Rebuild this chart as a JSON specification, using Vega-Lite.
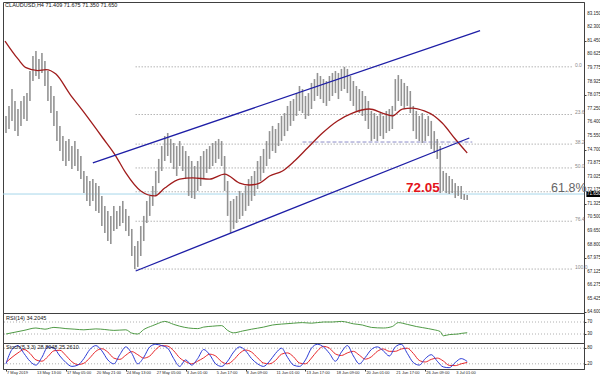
{
  "$schema": "https://vega.github.io/schema/vega-lite/v6.json",
  "padding": {"left": 1, "top": 1, "right": 0, "bottom": 0},
  "background": "#ffffff",
  "bounds": "flush",
  "spacing": 0,
  "config": {
    "font": "Liberation Sans",
    "view": {"stroke": "#404040", "strokeWidth": 1},
    "axis": {"title": null, "grid": false, "labels": false, "tickSize": 2, "domainColor": "#404040", "tickColor": "#404040"}
  },
  "datasets": {
    "bars": [
      {"t":0,"h":76.80,"l":75.74},{"t":1,"h":77.42,"l":75.99},{"t":2,"h":78.47,"l":76.49},{"t":3,"h":77.73,"l":75.86},{"t":4,"h":77.23,"l":75.55},{"t":5,"h":77.73,"l":76.18},{"t":6,"h":78.04,"l":76.61},{"t":7,"h":78.22,"l":76.49},{"t":8,"h":79.59,"l":77.73},{"t":9,"h":80.52,"l":78.97},
      {"t":10,"h":80.83,"l":79.28},{"t":11,"h":80.34,"l":79.09},{"t":12,"h":80.71,"l":79.47},{"t":13,"h":80.21,"l":78.66},{"t":14,"h":79.59,"l":77.73},{"t":15,"h":78.66,"l":76.98},{"t":16,"h":78.04,"l":76.18},{"t":17,"h":77.11,"l":75.24},{"t":18,"h":76.18,"l":74.62},{"t":19,"h":75.55,"l":74.00},
      {"t":20,"h":75.24,"l":73.69},{"t":21,"h":75.37,"l":74.00},{"t":22,"h":74.93,"l":73.50},{"t":23,"h":75.24,"l":73.69},{"t":24,"h":74.75,"l":73.38},{"t":25,"h":74.31,"l":72.88},{"t":26,"h":73.38,"l":72.01},{"t":27,"h":73.07,"l":71.52},{"t":28,"h":72.76,"l":71.21},{"t":29,"h":72.88,"l":71.52},
      {"t":30,"h":72.63,"l":70.90},{"t":31,"h":72.45,"l":70.77},{"t":32,"h":71.83,"l":69.96},{"t":33,"h":71.21,"l":69.53},{"t":34,"h":70.90,"l":69.03},{"t":35,"h":70.59,"l":68.85},{"t":36,"h":71.21,"l":69.65},{"t":37,"h":70.90,"l":69.78},{"t":38,"h":71.21,"l":69.96},{"t":39,"h":71.52,"l":70.15},
      {"t":40,"h":71.02,"l":69.65},{"t":41,"h":70.59,"l":69.34},{"t":42,"h":69.78,"l":68.10},{"t":43,"h":68.72,"l":67.29},{"t":44,"h":69.03,"l":67.42},{"t":45,"h":69.96,"l":68.10},{"t":46,"h":70.59,"l":69.03},{"t":47,"h":71.52,"l":70.15},{"t":48,"h":71.83,"l":70.59},{"t":49,"h":72.45,"l":71.21},
      {"t":50,"h":73.38,"l":71.83},{"t":51,"h":74.13,"l":72.63},{"t":52,"h":74.93,"l":73.38},{"t":53,"h":75.55,"l":74.00},{"t":54,"h":75.74,"l":74.31},{"t":55,"h":75.37,"l":73.88},{"t":56,"h":75.12,"l":73.50},{"t":57,"h":74.93,"l":73.07},{"t":58,"h":75.24,"l":73.69},{"t":59,"h":74.93,"l":73.38},
      {"t":60,"h":74.62,"l":72.88},{"t":61,"h":74.31,"l":71.83},{"t":62,"h":74.00,"l":71.70},{"t":63,"h":73.69,"l":71.64},{"t":64,"h":74.00,"l":72.14},{"t":65,"h":74.31,"l":72.45},{"t":66,"h":74.62,"l":72.88},{"t":67,"h":74.75,"l":73.26},{"t":68,"h":74.93,"l":73.50},{"t":69,"h":75.12,"l":73.69},
      {"t":70,"h":75.24,"l":73.88},{"t":71,"h":75.37,"l":74.13},{"t":72,"h":75.24,"l":73.69},{"t":73,"h":74.31,"l":72.14},{"t":74,"h":72.76,"l":70.59},{"t":75,"h":71.52,"l":69.53},{"t":76,"h":71.64,"l":69.78},{"t":77,"h":71.83,"l":70.15},{"t":78,"h":72.14,"l":70.40},{"t":79,"h":72.01,"l":70.59},
      {"t":80,"h":72.45,"l":70.90},{"t":81,"h":72.88,"l":71.21},{"t":82,"h":73.07,"l":71.52},{"t":83,"h":73.38,"l":71.83},{"t":84,"h":74.00,"l":72.26},{"t":85,"h":74.31,"l":72.76},{"t":86,"h":74.75,"l":73.26},{"t":87,"h":75.24,"l":73.69},{"t":88,"h":75.86,"l":74.13},{"t":89,"h":76.18,"l":74.62},
      {"t":90,"h":75.99,"l":74.50},{"t":91,"h":76.36,"l":74.93},{"t":92,"h":76.80,"l":75.24},{"t":93,"h":76.98,"l":75.55},{"t":94,"h":77.42,"l":75.86},{"t":95,"h":77.73,"l":76.18},{"t":96,"h":77.85,"l":76.49},{"t":97,"h":78.22,"l":76.80},{"t":98,"h":78.66,"l":77.11},{"t":99,"h":78.47,"l":76.98},
      {"t":100,"h":78.04,"l":76.61},{"t":101,"h":78.22,"l":76.80},{"t":102,"h":78.85,"l":77.23},{"t":103,"h":79.09,"l":77.73},{"t":104,"h":79.47,"l":78.04},{"t":105,"h":79.28,"l":77.85},{"t":106,"h":79.09,"l":77.60},{"t":107,"h":78.97,"l":77.42},{"t":108,"h":79.28,"l":77.73},{"t":109,"h":79.47,"l":78.04},
      {"t":110,"h":79.59,"l":78.22},{"t":111,"h":79.47,"l":77.85},{"t":112,"h":79.72,"l":78.35},{"t":113,"h":79.85,"l":78.47},{"t":114,"h":79.72,"l":78.22},{"t":115,"h":79.28,"l":77.73},{"t":116,"h":78.97,"l":77.42},{"t":117,"h":78.66,"l":77.11},{"t":118,"h":78.47,"l":76.98},{"t":119,"h":78.35,"l":76.80},
      {"t":120,"h":78.04,"l":76.49},{"t":121,"h":77.73,"l":75.99},{"t":122,"h":77.11,"l":75.24},{"t":123,"h":76.98,"l":75.37},{"t":124,"h":76.80,"l":75.24},{"t":125,"h":76.98,"l":75.55},{"t":126,"h":76.80,"l":75.37},{"t":127,"h":77.11,"l":75.74},{"t":128,"h":77.23,"l":75.86},{"t":129,"h":77.42,"l":75.99},
      {"t":130,"h":79.09,"l":77.11},{"t":131,"h":79.34,"l":77.73},{"t":132,"h":79.09,"l":77.42},{"t":133,"h":78.85,"l":77.23},{"t":134,"h":78.66,"l":77.42},{"t":135,"h":78.35,"l":76.98},{"t":136,"h":77.42,"l":75.86},{"t":137,"h":77.11,"l":75.37},{"t":138,"h":76.80,"l":75.24},{"t":139,"h":76.98,"l":75.12},
      {"t":140,"h":76.61,"l":75.24},{"t":141,"h":76.80,"l":75.55},{"t":142,"h":76.49,"l":74.75},{"t":143,"h":75.86,"l":74.50},{"t":144,"h":75.37,"l":74.13},{"t":145,"h":74.93,"l":72.01},{"t":146,"h":73.38,"l":72.14},{"t":147,"h":73.26,"l":72.01},{"t":148,"h":73.07,"l":71.95},{"t":149,"h":72.88,"l":72.01},
      {"t":150,"h":72.63,"l":71.70},{"t":151,"h":72.45,"l":71.83},{"t":152,"h":72.45,"l":71.64},{"t":153,"h":71.95,"l":71.58},{"t":154,"h":71.89,"l":71.58}
    ],
    "ma": [
      {"t":-0.33,"p":81.45},{"t":4,"p":80.34},{"t":6.67,"p":79.80},{"t":10.67,"p":79.62},{"t":13.33,"p":79.68},{"t":16.67,"p":79.40},{"t":21.33,"p":78.16},{"t":25.67,"p":77.11},{"t":32.33,"p":75.43},{"t":36.67,"p":74.31},
      {"t":40,"p":73.26},{"t":45,"p":72.14},{"t":49.67,"p":71.83},{"t":53,"p":72.32},{"t":58,"p":72.88},{"t":62.33,"p":72.95},{"t":68,"p":72.88},{"t":73,"p":73.19},{"t":78,"p":72.63},{"t":81.33,"p":72.51},
      {"t":84.67,"p":72.63},{"t":88,"p":73.07},{"t":92.33,"p":73.38},{"t":96.33,"p":74.00},{"t":100.67,"p":74.81},{"t":105.67,"p":75.74},{"t":110.67,"p":76.49},{"t":115.67,"p":76.98},{"t":121.33,"p":77.23},{"t":125.67,"p":76.98},
      {"t":129,"p":76.80},{"t":132.33,"p":77.23},{"t":135.67,"p":77.29},{"t":139.67,"p":77.11},{"t":143,"p":76.80},{"t":145.67,"p":76.36},{"t":150,"p":75.37},{"t":154,"p":74.50}
    ],
    "channel": [
      {"ch":"upper","t":29,"p":73.88},{"ch":"upper","t":158.3,"p":82.10},
      {"ch":"lower","t":43.3,"p":67.17},{"ch":"lower","t":154.7,"p":75.43}
    ],
    "fib": [
      {"lvl":"0.0","p":79.85,"t0":43.3,"t1":189.3},{"lvl":"23.6","p":76.89,"t0":43.3,"t1":189.3},{"lvl":"38.2","p":75.05,"t0":43.3,"t1":189.3},{"lvl":"50.0","p":73.57,"t0":43.3,"t1":189.3},{"lvl":"","p":72.09,"t0":43.3,"t1":189.3},{"lvl":"76.4","p":70.26,"t0":43.3,"t1":189.3},{"lvl":"100.0","p":67.29,"t0":43.3,"t1":189.3}
    ],
    "pricelabels": [
      {"p":83.15,"txt":"83.150"},{"p":82.3,"txt":"82.300"},{"p":81.45,"txt":"81.450"},{"p":80.625,"txt":"80.625"},{"p":79.775,"txt":"79.775"},{"p":78.925,"txt":"78.925"},{"p":78.075,"txt":"78.075"},{"p":77.25,"txt":"77.250"},
      {"p":76.4,"txt":"76.400"},{"p":75.55,"txt":"75.550"},{"p":74.7,"txt":"74.700"},{"p":73.875,"txt":"73.875"},{"p":73.025,"txt":"73.025"},{"p":72.175,"txt":"72.175"},{"p":71.325,"txt":"71.325"},{"p":70.5,"txt":"70.500"},
      {"p":69.65,"txt":"69.650"},{"p":68.8,"txt":"68.800"},{"p":67.975,"txt":"67.975"},{"p":67.125,"txt":"67.125"},{"p":66.275,"txt":"66.275"},{"p":65.425,"txt":"65.425"},{"p":64.6,"txt":"64.600"}
    ],
    "timelabels": [
      {"t":0,"txt":"7 May 2019"},{"t":10,"txt":"13 May 13:00"},{"t":20,"txt":"17 May 05:00"},{"t":30,"txt":"20 May 21:00"},{"t":40,"txt":"24 May 13:00"},{"t":50,"txt":"27 May 05:00"},{"t":60,"txt":"3 Jun 01:00"},{"t":70,"txt":"5 Jun 17:00"},
      {"t":80,"txt":"8 Jun 09:00"},{"t":90,"txt":"11 Jun 01:00"},{"t":100,"txt":"13 Jun 17:00"},{"t":110,"txt":"18 Jun 09:00"},{"t":120,"txt":"20 Jun 01:00"},{"t":130,"txt":"21 Jun 17:00"},{"t":140,"txt":"26 Jun 09:00"},{"t":150,"txt":"3 Jul 01:00"}
    ],
    "rsi": [
      {"t":0,"v":30},{"t":3,"v":36},{"t":6,"v":42},{"t":10,"v":50},{"t":13,"v":46},{"t":16,"v":52},{"t":20,"v":48},{"t":23,"v":46},{"t":26,"v":44},{"t":30,"v":47},
      {"t":33,"v":45},{"t":36,"v":42},{"t":40,"v":44},{"t":42,"v":33},{"t":44,"v":30},{"t":46,"v":45},{"t":49,"v":58},{"t":51,"v":66},{"t":53,"v":72},{"t":56,"v":62},
      {"t":58,"v":56},{"t":61,"v":50},{"t":64,"v":48},{"t":66,"v":53},{"t":69,"v":56},{"t":72,"v":58},{"t":74,"v":42},{"t":76,"v":34},{"t":79,"v":40},{"t":82,"v":46},
      {"t":86,"v":53},{"t":89,"v":60},{"t":92,"v":63},{"t":96,"v":66},{"t":99,"v":68},{"t":102,"v":66},{"t":106,"v":70},{"t":109,"v":70},{"t":112,"v":72},{"t":116,"v":64},
      {"t":119,"v":60},{"t":122,"v":52},{"t":126,"v":50},{"t":129,"v":55},{"t":131,"v":68},{"t":134,"v":62},{"t":137,"v":55},{"t":141,"v":48},{"t":143,"v":44},{"t":145,"v":38},
      {"t":146,"v":24},{"t":148,"v":28},{"t":151,"v":30},{"t":152,"v":32},{"t":154,"v":34.2}
    ],
    "stoch": [
      {"t":0,"k":20,"d":25},{"t":2,"k":75,"d":45},{"t":4,"k":90,"d":62},{"t":6,"k":60,"d":75},{"t":8,"k":30,"d":60},{"t":10,"k":15,"d":35},{"t":12,"k":45,"d":30},{"t":14,"k":85,"d":48},{"t":16,"k":80,"d":70},{"t":18,"k":50,"d":72},
      {"t":20,"k":25,"d":52},{"t":22,"k":10,"d":28},{"t":24,"k":15,"d":17},{"t":26,"k":40,"d":22},{"t":28,"k":75,"d":43},{"t":30,"k":90,"d":68},{"t":32,"k":70,"d":78},{"t":34,"k":35,"d":65},{"t":36,"k":20,"d":42},{"t":38,"k":55,"d":37},
      {"t":40,"k":85,"d":53},{"t":42,"k":60,"d":67},{"t":44,"k":20,"d":55},{"t":46,"k":45,"d":42},{"t":48,"k":85,"d":50},{"t":50,"k":95,"d":75},{"t":52,"k":90,"d":90},{"t":54,"k":80,"d":88},{"t":56,"k":40,"d":70},{"t":58,"k":10,"d":43},
      {"t":60,"k":35,"d":28},{"t":62,"k":15,"d":20},{"t":64,"k":40,"d":30},{"t":66,"k":75,"d":43},{"t":68,"k":55,"d":57},{"t":70,"k":20,"d":50},{"t":72,"k":10,"d":28},{"t":74,"k":30,"d":20},{"t":76,"k":65,"d":35},{"t":78,"k":85,"d":60},
      {"t":80,"k":70,"d":73},{"t":82,"k":40,"d":65},{"t":84,"k":20,"d":43},{"t":86,"k":10,"d":23},{"t":88,"k":30,"d":20},{"t":90,"k":60,"d":33},{"t":92,"k":80,"d":57},{"t":94,"k":45,"d":62},{"t":96,"k":15,"d":47},{"t":98,"k":10,"d":23},
      {"t":100,"k":35,"d":20},{"t":102,"k":80,"d":42},{"t":104,"k":95,"d":70},{"t":106,"k":85,"d":87},{"t":108,"k":60,"d":80},{"t":110,"k":30,"d":58},{"t":112,"k":65,"d":52},{"t":114,"k":90,"d":62},{"t":116,"k":50,"d":68},{"t":118,"k":20,"d":53},
      {"t":120,"k":45,"d":38},{"t":122,"k":75,"d":47},{"t":124,"k":85,"d":68},{"t":126,"k":70,"d":77},{"t":128,"k":50,"d":68},{"t":130,"k":85,"d":68},{"t":132,"k":95,"d":77},{"t":134,"k":60,"d":80},{"t":136,"k":25,"d":60},{"t":138,"k":15,"d":33},
      {"t":140,"k":40,"d":27},{"t":142,"k":55,"d":37},{"t":144,"k":30,"d":42},{"t":146,"k":8,"d":31},{"t":148,"k":5,"d":14},{"t":150,"k":25,"d":13},{"t":152,"k":40,"d":20},{"t":154,"k":28.8,"d":25.3}
    ]
  },
  "vconcat": [
    {
      "width": 581,
      "height": 311,
      "layer": [
        {
          "data": {"name": "fib"},
          "mark": {"type": "rule", "color": "#8f8f8f", "strokeWidth": 1, "strokeDash": [1, 2]},
          "encoding": {
            "x": {"field": "t0", "type": "quantitative", "scale": {"domain": [-1, 193], "nice": false, "zero": false}, "axis": null},
            "x2": {"field": "t1"},
            "y": {"field": "p", "type": "quantitative", "scale": {"domain": [64.56, 83.877], "nice": false, "zero": false},
                  "axis": {"orient": "right", "labels": false, "values": [83.15, 82.3, 81.45, 80.625, 79.775, 78.925, 78.075, 77.25, 76.4, 75.55, 74.7, 73.875, 73.025, 72.175, 71.325, 70.5, 69.65, 68.8, 67.975, 67.125, 66.275, 65.425, 64.6]}}
          }
        },
        {
          "data": {"name": "pricelabels"},
          "mark": {"type": "text", "align": "left", "baseline": "middle", "fontSize": 4.5, "color": "#222222"},
          "encoding": {
            "x": {"datum": 194.1, "type": "quantitative"},
            "y": {"field": "p", "type": "quantitative"},
            "text": {"field": "txt"}
          }
        },
        {
          "data": {"name": "fib"},
          "mark": {"type": "text", "align": "left", "baseline": "bottom", "dx": 2, "dy": 1, "fontSize": 5, "color": "#8a8a8a"},
          "encoding": {
            "x": {"field": "t1", "type": "quantitative"},
            "y": {"field": "p", "type": "quantitative"},
            "text": {"field": "lvl"}
          }
        },
        {
          "data": {"values": [{"p": 71.95}]},
          "mark": {"type": "rule", "color": "#a6d6ea", "strokeWidth": 1},
          "encoding": {"y": {"field": "p", "type": "quantitative"}}
        },
        {
          "data": {"values": [{"t0": 99, "t1": 155.7, "p": 75.18}]},
          "mark": {"type": "rule", "color": "#8c8cc8", "strokeWidth": 1, "strokeDash": [4, 2]},
          "encoding": {
            "x": {"field": "t0", "type": "quantitative"},
            "x2": {"field": "t1"},
            "y": {"field": "p", "type": "quantitative"}
          }
        },
        {
          "data": {"name": "bars"},
          "mark": {"type": "rule", "color": "#939393", "strokeWidth": 1.6},
          "encoding": {
            "x": {"field": "t", "type": "quantitative"},
            "y": {"field": "l", "type": "quantitative"},
            "y2": {"field": "h"}
          }
        },
        {
          "data": {"name": "ma"},
          "mark": {"type": "line", "color": "#a01c1c", "strokeWidth": 1.3, "interpolate": "monotone"},
          "encoding": {
            "x": {"field": "t", "type": "quantitative"},
            "y": {"field": "p", "type": "quantitative"}
          }
        },
        {
          "data": {"name": "channel"},
          "mark": {"type": "line", "color": "#1e1ea6", "strokeWidth": 1.3},
          "encoding": {
            "x": {"field": "t", "type": "quantitative"},
            "y": {"field": "p", "type": "quantitative"},
            "detail": {"field": "ch"}
          }
        },
        {
          "data": {"values": [{"t": 139.2, "p": 72.32, "txt": "72.05"}]},
          "mark": {"type": "text", "align": "center", "baseline": "middle", "fontSize": 13.5, "fontWeight": "bold", "color": "#e3141b"},
          "encoding": {
            "x": {"field": "t", "type": "quantitative"},
            "y": {"field": "p", "type": "quantitative"},
            "text": {"field": "txt"}
          }
        },
        {
          "data": {"values": [{"t": 182, "p": 72.32, "txt": "61.8%"}]},
          "mark": {"type": "text", "align": "left", "baseline": "middle", "fontSize": 12.5, "color": "#666666"},
          "encoding": {
            "x": {"field": "t", "type": "quantitative"},
            "y": {"field": "p", "type": "quantitative"},
            "text": {"field": "txt"}
          }
        },
        {
          "data": {"values": [{"t": -0.3, "p": 83.815, "txt": "CLAUDUSD,H4  71.409 71.675 71.350 71.650"}]},
          "mark": {"type": "text", "align": "left", "baseline": "top", "fontSize": 5.5, "color": "#111111"},
          "encoding": {
            "x": {"field": "t", "type": "quantitative"},
            "y": {"field": "p", "type": "quantitative"},
            "text": {"field": "txt"}
          }
        },
        {
          "data": {"values": [{"t": 196.3, "p": 71.95}]},
          "mark": {"type": "point", "shape": "M-1,-0.4H1V0.4H-1Z", "filled": true, "size": 225, "color": "#000000", "opacity": 1},
          "encoding": {
            "x": {"field": "t", "type": "quantitative"},
            "y": {"field": "p", "type": "quantitative"}
          }
        },
        {
          "data": {"values": [{"t": 196.3, "p": 71.95, "txt": "71.650"}]},
          "mark": {"type": "text", "align": "center", "baseline": "middle", "fontSize": 4.5, "color": "#ffffff"},
          "encoding": {
            "x": {"field": "t", "type": "quantitative"},
            "y": {"field": "p", "type": "quantitative"},
            "text": {"field": "txt"}
          }
        }
      ]
    },
    {
      "width": 581,
      "height": 30,
      "layer": [
        {
          "data": {"values": [{"v": 70, "txt": "70"}, {"v": 30, "txt": "30"}]},
          "mark": {"type": "rule", "color": "#b0b0b0", "strokeWidth": 1, "strokeDash": [1, 2]},
          "encoding": {
            "y": {"field": "v", "type": "quantitative", "scale": {"domain": [0, 100], "nice": false, "zero": false},
                  "axis": {"orient": "right", "labels": false, "values": [70, 30]}}
          }
        },
        {
          "data": {"values": [{"v": 70, "txt": "70"}, {"v": 30, "txt": "30"}]},
          "mark": {"type": "text", "align": "left", "baseline": "middle", "fontSize": 4.5, "color": "#222222"},
          "encoding": {
            "x": {"datum": 194.1, "type": "quantitative", "scale": {"domain": [-1, 193], "nice": false, "zero": false}, "axis": null},
            "y": {"field": "v", "type": "quantitative"},
            "text": {"field": "txt"}
          }
        },
        {
          "data": {"name": "rsi"},
          "mark": {"type": "line", "color": "#4f9a45", "strokeWidth": 1, "interpolate": "monotone"},
          "encoding": {
            "x": {"field": "t", "type": "quantitative"},
            "y": {"field": "v", "type": "quantitative"}
          }
        },
        {
          "data": {"values": [{"t": 0, "v": 90, "txt": "RSI(14) 34.2045"}]},
          "mark": {"type": "text", "align": "left", "baseline": "top", "fontSize": 5.5, "color": "#111111"},
          "encoding": {
            "x": {"field": "t", "type": "quantitative"},
            "y": {"field": "v", "type": "quantitative"},
            "text": {"field": "txt"}
          }
        }
      ]
    },
    {
      "width": 581,
      "height": 26,
      "layer": [
        {
          "data": {"values": [{"v": 80}, {"v": 20}]},
          "mark": {"type": "rule", "color": "#b0b0b0", "strokeWidth": 1, "strokeDash": [1, 2]},
          "encoding": {
            "y": {"field": "v", "type": "quantitative", "scale": {"domain": [0, 100], "nice": false, "zero": false},
                  "axis": {"orient": "right", "labels": false, "values": [80, 20]}}
          }
        },
        {
          "data": {"values": [{"v": 80, "txt": "80"}, {"v": 20, "txt": "20"}]},
          "mark": {"type": "text", "align": "left", "baseline": "middle", "fontSize": 4.5, "color": "#222222"},
          "encoding": {
            "x": {"datum": 194.1, "type": "quantitative"},
            "y": {"field": "v", "type": "quantitative"},
            "text": {"field": "txt"}
          }
        },
        {
          "data": {"name": "stoch"},
          "mark": {"type": "line", "color": "#e8262a", "strokeWidth": 1, "interpolate": "monotone"},
          "encoding": {
            "x": {"field": "t", "type": "quantitative", "scale": {"domain": [-1, 193], "nice": false, "zero": false},
                  "axis": {"orient": "bottom", "labels": false, "values": [0, 10, 20, 30, 40, 50, 60, 70, 80, 90, 100, 110, 120, 130, 140, 150]}},
            "y": {"field": "d", "type": "quantitative"}
          }
        },
        {
          "data": {"name": "stoch"},
          "mark": {"type": "line", "color": "#2b3bd6", "strokeWidth": 1, "interpolate": "monotone"},
          "encoding": {
            "x": {"field": "t", "type": "quantitative"},
            "y": {"field": "k", "type": "quantitative"}
          }
        },
        {
          "data": {"name": "timelabels"},
          "mark": {"type": "text", "align": "left", "baseline": "top", "dx": 1, "fontSize": 4, "color": "#222222"},
          "encoding": {
            "x": {"field": "t", "type": "quantitative"},
            "y": {"datum": -6, "type": "quantitative"},
            "text": {"field": "txt"}
          }
        },
        {
          "data": {"values": [{"t": 0, "v": 92, "txt": "Stoch(5,3,3) 28.8048 25.2610"}]},
          "mark": {"type": "text", "align": "left", "baseline": "top", "fontSize": 5.5, "color": "#111111"},
          "encoding": {
            "x": {"field": "t", "type": "quantitative"},
            "y": {"field": "v", "type": "quantitative"},
            "text": {"field": "txt"}
          }
        }
      ]
    }
  ]
}
